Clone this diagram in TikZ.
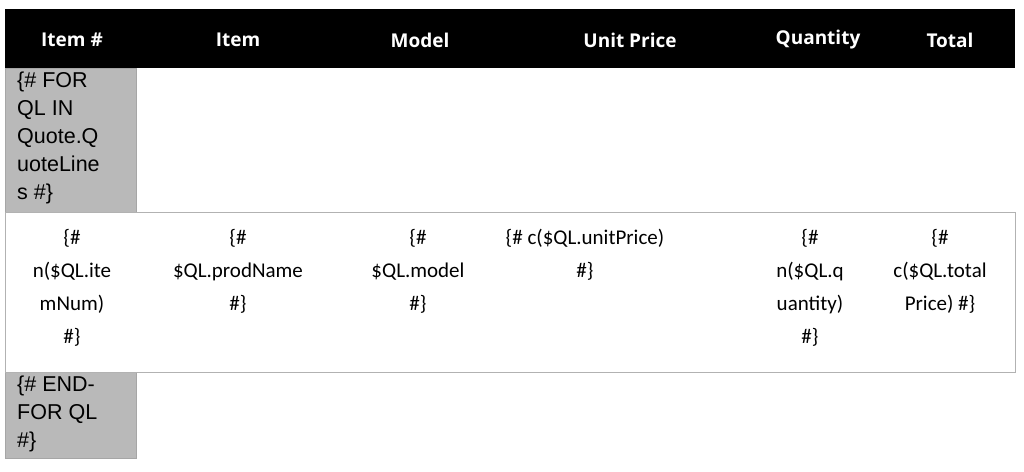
\documentclass[tikz,border=0pt]{standalone}
\usepackage{fontspec}
\setmainfont{Carlito}
\newfontfamily\headfont{Open Sans}
\newfontfamily\grayfont{Liberation Sans}
\usetikzlibrary{positioning}

\tikzset{
  head/.style={text=white, font=\headfont\bfseries\fontsize{19}{23}\selectfont},
  cell/.style={align=center, font=\fontsize{21}{33}\selectfont, anchor=north},
  graycell/.style={align=left, anchor=north west, inner sep=0pt,
    font=\grayfont\fontsize{21.5}{28}\selectfont}
}

\begin{document}
\begin{tikzpicture}[x=1pt,y=-1pt]
  \useasboundingbox (0,0) rectangle (1024,471);
  % header bar
  \fill[black] (5,9) rectangle (1015,68);
  \node[head] (hnum) at (72,40) {Item \#};
  \node[head] (hitem) at (238,40) {Item};
  \node[head] (hmodel) at (420,40) {Model};
  \node[head] (hprice) at (630,40) {Unit Price};
  \node[head] (hqty) at (818,40) {Quantity};
  \node[head] (htotal) at (950,40) {Total};

  % loop markers
  \fill[gray!55, draw=gray!70] (5,68) rectangle (136,212);
  \node[graycell] (forql) at (17,72) {\{\# FOR\\QL IN\\Quote.Q\\uoteLine\\s \#\}};
  \fill[gray!55, draw=gray!70] (5,372) rectangle (136,458);
  \node[graycell] (endql) at (17,376) {\{\# END-\\FOR QL\\\#\}};

  % data row
  \draw[gray!60] (5,212) rectangle (1015,372);
  \node[cell] (cnum) at (72,226) {\{\#\\n(\$QL.ite\\mNum)\\\#\}};
  \node[cell] (citem) at (238,226) {\{\#\\\$QL.prodName\\\#\}};
  \node[cell] (cmodel) at (418,226) {\{\#\\\$QL.model\\\#\}};
  \node[cell] (cprice) at (585,226) {\{\# c(\$QL.unitPrice)\\\#\}};
  \node[cell] (cqty) at (810,226) {\{\#\\n(\$QL.q\\uantity)\\\#\}};
  \node[cell] (ctotal) at (940,226) {\{\#\\c(\$QL.total\\Price) \#\}};
\end{tikzpicture}
\end{document}
